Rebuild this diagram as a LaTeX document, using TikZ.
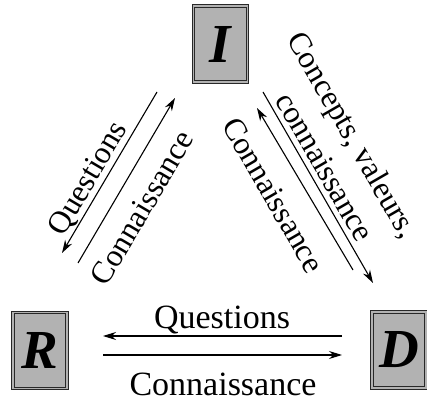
\documentclass[tikz,border=0pt]{standalone}
\usepackage{fontspec}
\setmainfont{Liberation Serif}
\usepackage{xcolor}
\usetikzlibrary{arrows.meta,positioning}
\definecolor{boxgray}{RGB}{178, 178, 178}
\definecolor{edgegray}{RGB}{40, 40, 40}

\begin{document}
\begin{tikzpicture}[
    x=1pt, y=1pt,
    pole/.style={
      rectangle,
      draw=edgegray,
      line width=1pt,
      double=boxgray,
      double distance=1.6pt,
      fill=boxgray,
      minimum width=54pt,
      minimum height=76pt,
      inner sep=0pt,
      font=\fontsize{55}{60}\selectfont\bfseries\itshape
    },
    label/.style={
      font=\fontsize{34}{42}\selectfont,
      inner sep=0pt
    },
    slant/.style={
      font=\fontsize{31.5}{40}\selectfont,
      inner sep=0pt
    },
    arrow/.style={-{Stealth[length=13pt,width=8pt]}, line width=1.1pt}
  ]
    \useasboundingbox (0,0) rectangle (427,401);

    \node[pole] (I) at (220.5,357) {I};
    \node[pole] (R) at (40,50.5) {R};
    \node[pole] (D) at (399,51) {D};

    % I -- R
    \coordinate (iq1) at (157,309);
    \coordinate (iq2) at (62,148);
    \coordinate (ic1) at (78,138);
    \coordinate (ic2) at (175,303);
    \draw[arrow] (iq1) -- (iq2);
    \draw[arrow] (ic1) -- (ic2);
    \node[slant, rotate=59.5] (lq) at (89,222) {Questions};
    \node[slant, rotate=59.5] (lc) at (142,193) {Connaissance};

    % I -- D
    \coordinate (dv1) at (263,309);
    \coordinate (dv2) at (373,118);
    \coordinate (dc1) at (353,131);
    \coordinate (dc2) at (257,293);
    \draw[arrow] (dv1) -- (dv2);
    \draw[arrow] (dc1) -- (dc2);
    \node[slant, rotate=-60, anchor=base] (rv) at (344,261) {Concepts, valeurs,};
    \node[slant, rotate=-60, anchor=base] (rw) at (316,229) {connaissance};
    \node[slant, rotate=-60] (rc) at (273.5,206) {Connaissance};

    % R -- D
    \coordinate (bq1) at (342,65);
    \coordinate (bq2) at (103,65);
    \coordinate (bc1) at (103,46);
    \coordinate (bc2) at (342,46);
    \draw[arrow] (bq1) -- (bq2);
    \draw[arrow] (bc1) -- (bc2);
    \node[label, anchor=base] (bq) at (222,73) {Questions};
    \node[label, anchor=base] (bc) at (223,6) {Connaissance};
  \end{tikzpicture}
\end{document}
